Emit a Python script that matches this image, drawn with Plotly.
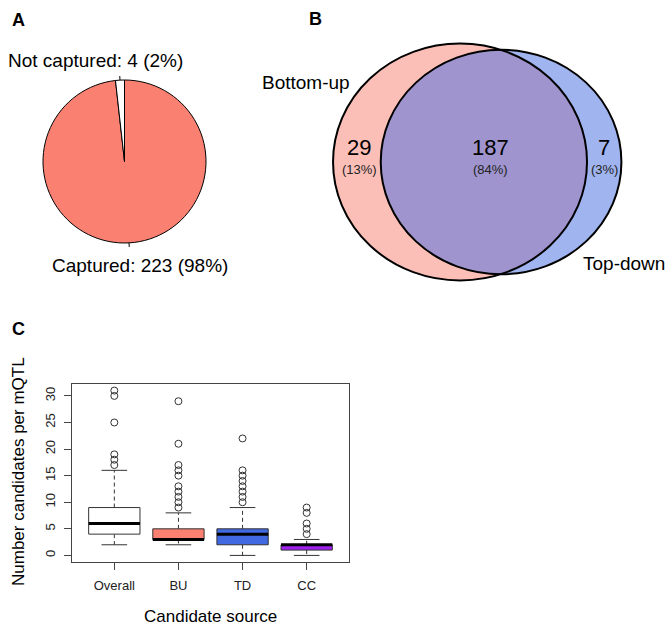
import math
import plotly.graph_objects as go

W, H = 670, 626
FONT = "Liberation Sans, Arial, Helvetica, sans-serif"

# ---------------- data ----------------
# Panel A (drawn clockwise from 12 o'clock)
pie_labels = ["Captured", "Not captured"]
pie_values = [223, 4]
pie_colors = ["#FA8072", "white"]

# Panel B
venn_sets = ["Bottom-up", "Top-down"]
venn_only = [29, 7]
venn_both = 187
venn_colors = ["rgba(250,128,114,0.5)", "rgba(65,105,225,0.5)"]

# Panel C
groups = ["Overall", "BU", "TD", "CC"]
q1 = [4, 3, 2, 1]
med = [6, 3, 4, 2]
q3 = [9, 5, 5, 2]
lo = [2, 2, 0, 0]
hi = [16, 8, 9, 3]
outliers = [
    [17, 18, 19, 25, 30, 31],
    [9, 10, 11, 12, 13, 15, 16, 17, 21, 29],
    [10, 11, 12, 13, 14, 15, 16, 22],
    [4, 5, 6, 8, 9],
]
box_colors = ["white", "#FA8072", "#4169E1", "#A020F0"]


def px(x):
    return x / W


def py(y):
    return 1 - y / H


fig = go.Figure()
shapes = []
annotations = []

# ---------------- Panel A: pie ----------------
PCX, PCY, PR = 124.5, 161.5, 81.5
fig.add_trace(go.Pie(
    labels=pie_labels, values=pie_values, sort=False,
    direction="clockwise", rotation=0,
    marker=dict(colors=pie_colors, line=dict(color="black", width=1)),
    textinfo="none", hoverinfo="label+value", showlegend=False,
    domain=dict(x=[px(PCX - PR), px(PCX + PR)], y=[py(PCY + PR), py(PCY - PR)]),
))
total = sum(pie_values)
cum = 0
for v in pie_values:
    ang = math.radians(90 - 360 * (cum + v / 2) / total)
    cum += v
    x0 = PCX + PR * math.cos(ang)
    y0 = PCY - PR * math.sin(ang)
    x1 = PCX + 1.05 * PR * math.cos(ang)
    y1 = PCY - 1.05 * PR * math.sin(ang)
    shapes.append(dict(type="line", xref="paper", yref="paper",
                       x0=px(x0), y0=py(y0), x1=px(x1), y1=py(y1),
                       line=dict(color="black", width=1)))

pie_label_pos = [(139.5, 265), (95.5, 60)]
for lab, v, (lx, ly) in zip(pie_labels, pie_values, pie_label_pos):
    annotations.append(dict(
        text=f"{lab}: {v} ({round(100 * v / total)}%)",
        x=px(lx), y=py(ly), xref="paper", yref="paper",
        xanchor="center", yanchor="middle", showarrow=False,
        font=dict(size=19, color="black", family=FONT)))

# ---------------- Panel B: Venn ----------------
VENN_OFFSET = 4.75
tot_bu = venn_only[0] + venn_both
tot_td = venn_only[1] + venn_both
r1 = math.sqrt(tot_bu)
r2 = math.sqrt(tot_td)
circles = [(0.0, r1), (VENN_OFFSET, r2)]

fig.add_trace(go.Scatter(x=[c for c, _ in circles], y=[0, 0], xaxis="x2", yaxis="y2",
                         mode="markers", marker=dict(opacity=0), hoverinfo="skip",
                         showlegend=False))
for (cx, r), col in zip(circles, venn_colors):
    shapes.append(dict(type="circle", xref="x2", yref="y2",
                       x0=cx - r, x1=cx + r, y0=-r, y1=r,
                       fillcolor=col, line=dict(width=0), layer="below"))
for (cx, r) in circles:
    shapes.append(dict(type="circle", xref="x2", yref="y2",
                       x0=cx - r, x1=cx + r, y0=-r, y1=r,
                       fillcolor="rgba(0,0,0,0)", line=dict(color="black", width=2)))

vtot = venn_only[0] + venn_only[1] + venn_both
region_counts = [venn_only[0], venn_both, venn_only[1]]
region_x = [359, 490, 604]
for n, rx in zip(region_counts, region_x):
    annotations.append(dict(text=str(n), x=px(rx), y=py(161.5), xref="paper", yref="paper",
                            showarrow=False, xanchor="center", yanchor="bottom",
                            font=dict(size=22, color="black", family=FONT)))
    annotations.append(dict(text=f"({round(100 * n / vtot)}%)", x=px(rx), y=py(159.5),
                            xref="paper", yref="paper", showarrow=False,
                            xanchor="center", yanchor="top",
                            font=dict(size=13, color="#222", family=FONT)))
annotations.append(dict(text=venn_sets[0], x=px(306), y=py(82), xref="paper", yref="paper",
                        showarrow=False, xanchor="center", yanchor="middle",
                        font=dict(size=19, color="black", family=FONT)))
annotations.append(dict(text=venn_sets[1], x=px(624), y=py(263), xref="paper", yref="paper",
                        showarrow=False, xanchor="center", yanchor="middle",
                        font=dict(size=19, color="black", family=FONT)))

# ---------------- Panel C: boxplot ----------------
BW = 0.4
SW = 0.2
EDGE = "#333"
for i, g in enumerate(groups):
    x = i + 1
    for a, b in [(q3[i], hi[i]), (q1[i], lo[i])]:
        fig.add_trace(go.Scatter(x=[x, x], y=[a, b], mode="lines",
                                 line=dict(color=EDGE, width=1, dash="4px,3px"),
                                 hoverinfo="skip", showlegend=False))
    for v in (hi[i], lo[i]):
        fig.add_trace(go.Scatter(x=[x - SW, x + SW], y=[v, v], mode="lines",
                                 line=dict(color=EDGE, width=1),
                                 hoverinfo="skip", showlegend=False))
    fig.add_trace(go.Scatter(x=[x - BW, x + BW, x + BW, x - BW, x - BW],
                             y=[q1[i], q1[i], q3[i], q3[i], q1[i]],
                             mode="lines", fill="toself", fillcolor=box_colors[i],
                             line=dict(color=EDGE, width=1), name=g,
                             hoverinfo="skip", showlegend=False))
    fig.add_trace(go.Scatter(x=[x - BW, x + BW], y=[med[i], med[i]], mode="lines",
                             line=dict(color="black", width=3),
                             hoverinfo="skip", showlegend=False))
    fig.add_trace(go.Scatter(x=[x] * len(outliers[i]), y=outliers[i], mode="markers",
                             marker=dict(symbol="circle-open", size=7,
                                         line=dict(color=EDGE, width=1), color=EDGE),
                             hoverinfo="y", showlegend=False))

annotations.append(dict(text="Number candidates per mQTL", x=px(18), y=py(472),
                        xref="paper", yref="paper", textangle=-90, showarrow=False,
                        xanchor="center", yanchor="middle",
                        font=dict(size=17, color="black", family=FONT)))
annotations.append(dict(text="Candidate source", x=px(210.5), y=py(616),
                        xref="paper", yref="paper", showarrow=False,
                        xanchor="center", yanchor="middle",
                        font=dict(size=17, color="black", family=FONT)))

for lab, (lx, ly) in zip(["A", "B", "C"], [(18, 20), (315, 19), (18, 329)]):
    annotations.append(dict(text=f"<b>{lab}</b>", x=px(lx), y=py(ly), xref="paper",
                            yref="paper", showarrow=False, xanchor="center",
                            yanchor="middle", font=dict(size=18, color="black", family=FONT)))

axis_common = dict(showgrid=False, zeroline=False, showline=True, mirror=True,
                   linecolor="#444", linewidth=1, ticks="outside", ticklen=7,
                   tickcolor="#444", tickwidth=1,
                   tickfont=dict(size=13, color="#222", family=FONT), fixedrange=True)

fig.update_layout(
    width=W, height=H,
    margin=dict(l=0, r=0, t=0, b=0),
    paper_bgcolor="white", plot_bgcolor="white",
    font=dict(family=FONT),
    xaxis=dict(domain=[px(72), px(349)], range=[0.34, 4.66],
               tickvals=[1, 2, 3, 4], ticktext=groups, anchor="y",
               ticklabelstandoff=4, **axis_common),
    yaxis=dict(domain=[py(562), py(384)], range=[-1.24, 32.24],
               tickvals=[0, 5, 10, 15, 20, 25, 30], tickangle=-90, anchor="x",
               ticklabelstandoff=4, **axis_common),
    xaxis2=dict(domain=[px(300), 1.0], range=[-18.52, 24.30], visible=False,
                anchor="y2", fixedrange=True),
    yaxis2=dict(domain=[py(290), py(30)], range=[-15.88, 16.38], visible=False,
                anchor="x2", fixedrange=True),
    shapes=shapes,
    annotations=annotations,
)

fig.write_html("out.html", config={"displayModeBar": False},
               post_script="document.body.style.margin='0px';document.body.style.overflow='hidden';")
